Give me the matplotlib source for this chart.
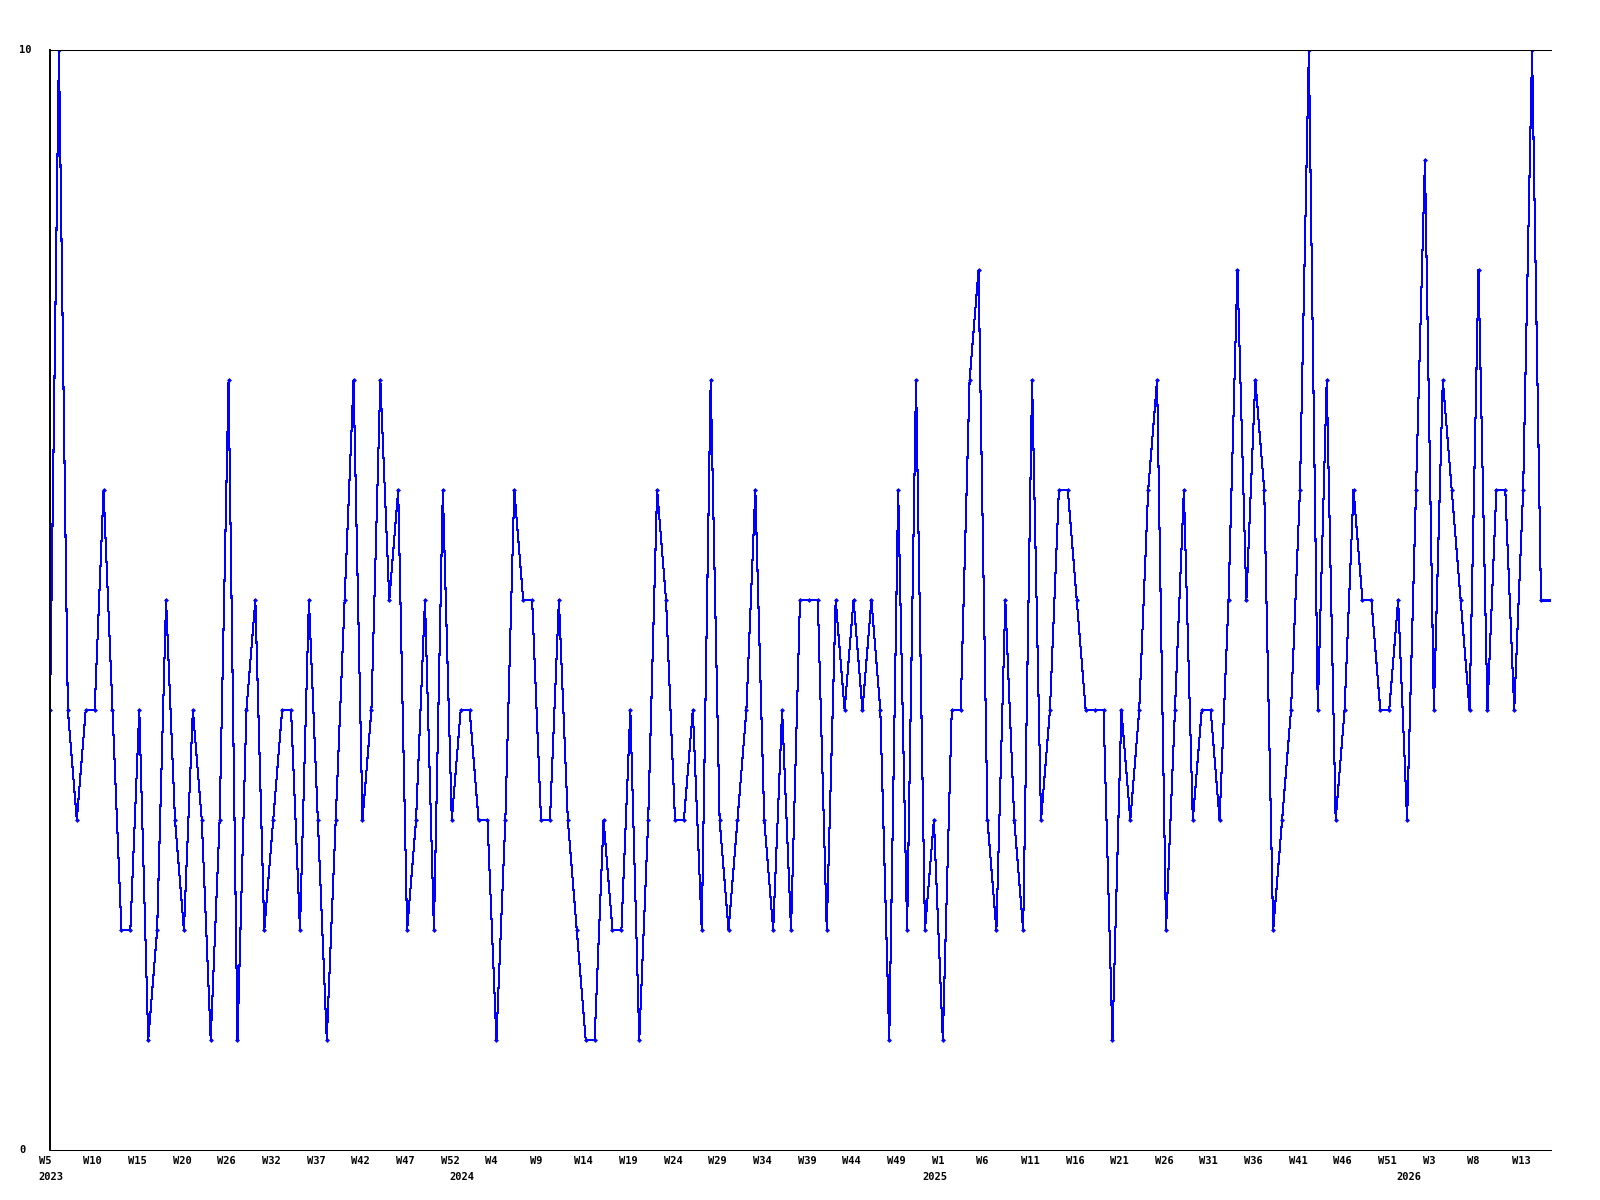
import numpy as np
import matplotlib
matplotlib.use('Agg')
import matplotlib.pyplot as plt
import matplotlib.transforms as mtransforms

# weekly values, first point is 2023 W5
values = [4, 10, 4, 3, 4, 4, 6, 4, 2, 2,
          4, 1, 2, 5, 3, 2, 4, 3, 1, 3,
          7, 1, 4, 5, 2, 3, 4, 4, 2, 5,
          3, 1, 3, 5, 7, 3, 4, 7, 5, 6,
          2, 3, 5, 2, 6, 3, 4, 4, 3, 3,
          1, 3, 6, 5, 5, 3, 3, 5, 3, 2,
          1, 1, 3, 2, 2, 4, 1, 3, 6, 5,
          3, 3, 4, 2, 7, 3, 2, 3, 4, 6,
          3, 2, 4, 2, 5, 5, 5, 2, 5, 4,
          5, 4, 5, 4, 1, 6, 2, 7, 2, 3,
          1, 4, 4, 7, 8, 3, 2, 5, 3, 2,
          7, 3, 4, 6, 6, 5, 4, 4, 4, 1,
          4, 3, 4, 6, 7, 2, 4, 6, 3, 4,
          4, 3, 5, 8, 5, 7, 6, 2, 3, 4,
          6, 10, 4, 7, 3, 4, 6, 5, 5, 4,
          4, 5, 3, 6, 9, 4, 7, 6, 5, 4,
          8, 4, 6, 6, 4, 6, 10, 5]

week_labels = ['W5', 'W10', 'W15', 'W20', 'W26', 'W32', 'W37', 'W42', 'W47', 'W52',
               'W4', 'W9', 'W14', 'W19', 'W24', 'W29', 'W34', 'W39', 'W44', 'W49',
               'W1', 'W6', 'W11', 'W16', 'W21', 'W26', 'W31', 'W36', 'W41', 'W46',
               'W51', 'W3', 'W8', 'W13']
week_pos = list(range(0, 5 * len(week_labels), 5))

year_labels = ['2023', '2024', '2025', '2026']
year_pos = [0, 46, 99, 152]

y_labels = ['0', '10']

font = dict(family='DejaVu Sans Mono', weight='bold', size=7.5)

x = np.arange(len(values))

fig = plt.figure(figsize=(16, 12), dpi=100)
ax = fig.add_axes([50 / 1600, 50 / 1200, 1501 / 1600, 1100 / 1200])

xmax = len(values) - 1 + 10 / 8.93
ax.plot(x, values, color='#0000ff', linewidth=0.75, marker='D', markersize=2.0,
        markeredgewidth=0.5, antialiased=False)
# line keeps going flat to the right edge
ax.plot([x[-1], xmax], [values[-1], values[-1]], color='#0000ff', linewidth=0.75,
        antialiased=False)

ax.set_xlim(0, xmax)
ax.set_ylim(0, 10)
ax.set_xticks([])
ax.set_yticks([])
ax.spines['right'].set_visible(False)
ax.spines['left'].set_linewidth(1.4)
ax.spines['bottom'].set_linewidth(0.75)
ax.spines['top'].set_linewidth(0.75)

# x labels: left edge sits a bit left of the tick position
off = mtransforms.ScaledTranslation(-11.2 / 100, 0, fig.dpi_scale_trans)
trans = mtransforms.blended_transform_factory(ax.transData, ax.transAxes) + off
for p, lab in zip(week_pos, week_labels):
    ax.text(p, -11 / 1100, lab, transform=trans, ha='left', va='center', **font)
for p, lab in zip(year_pos, year_labels):
    ax.text(p, -27 / 1100, lab, transform=trans, ha='left', va='center', **font)

ytrans = mtransforms.blended_transform_factory(fig.transFigure, ax.transData)
for v, lab in zip([0, 10], y_labels):
    ax.text(19.5 / 1600, v, lab, transform=ytrans, ha='left', va='center', **font)

fig.savefig('out.png', dpi=100)
